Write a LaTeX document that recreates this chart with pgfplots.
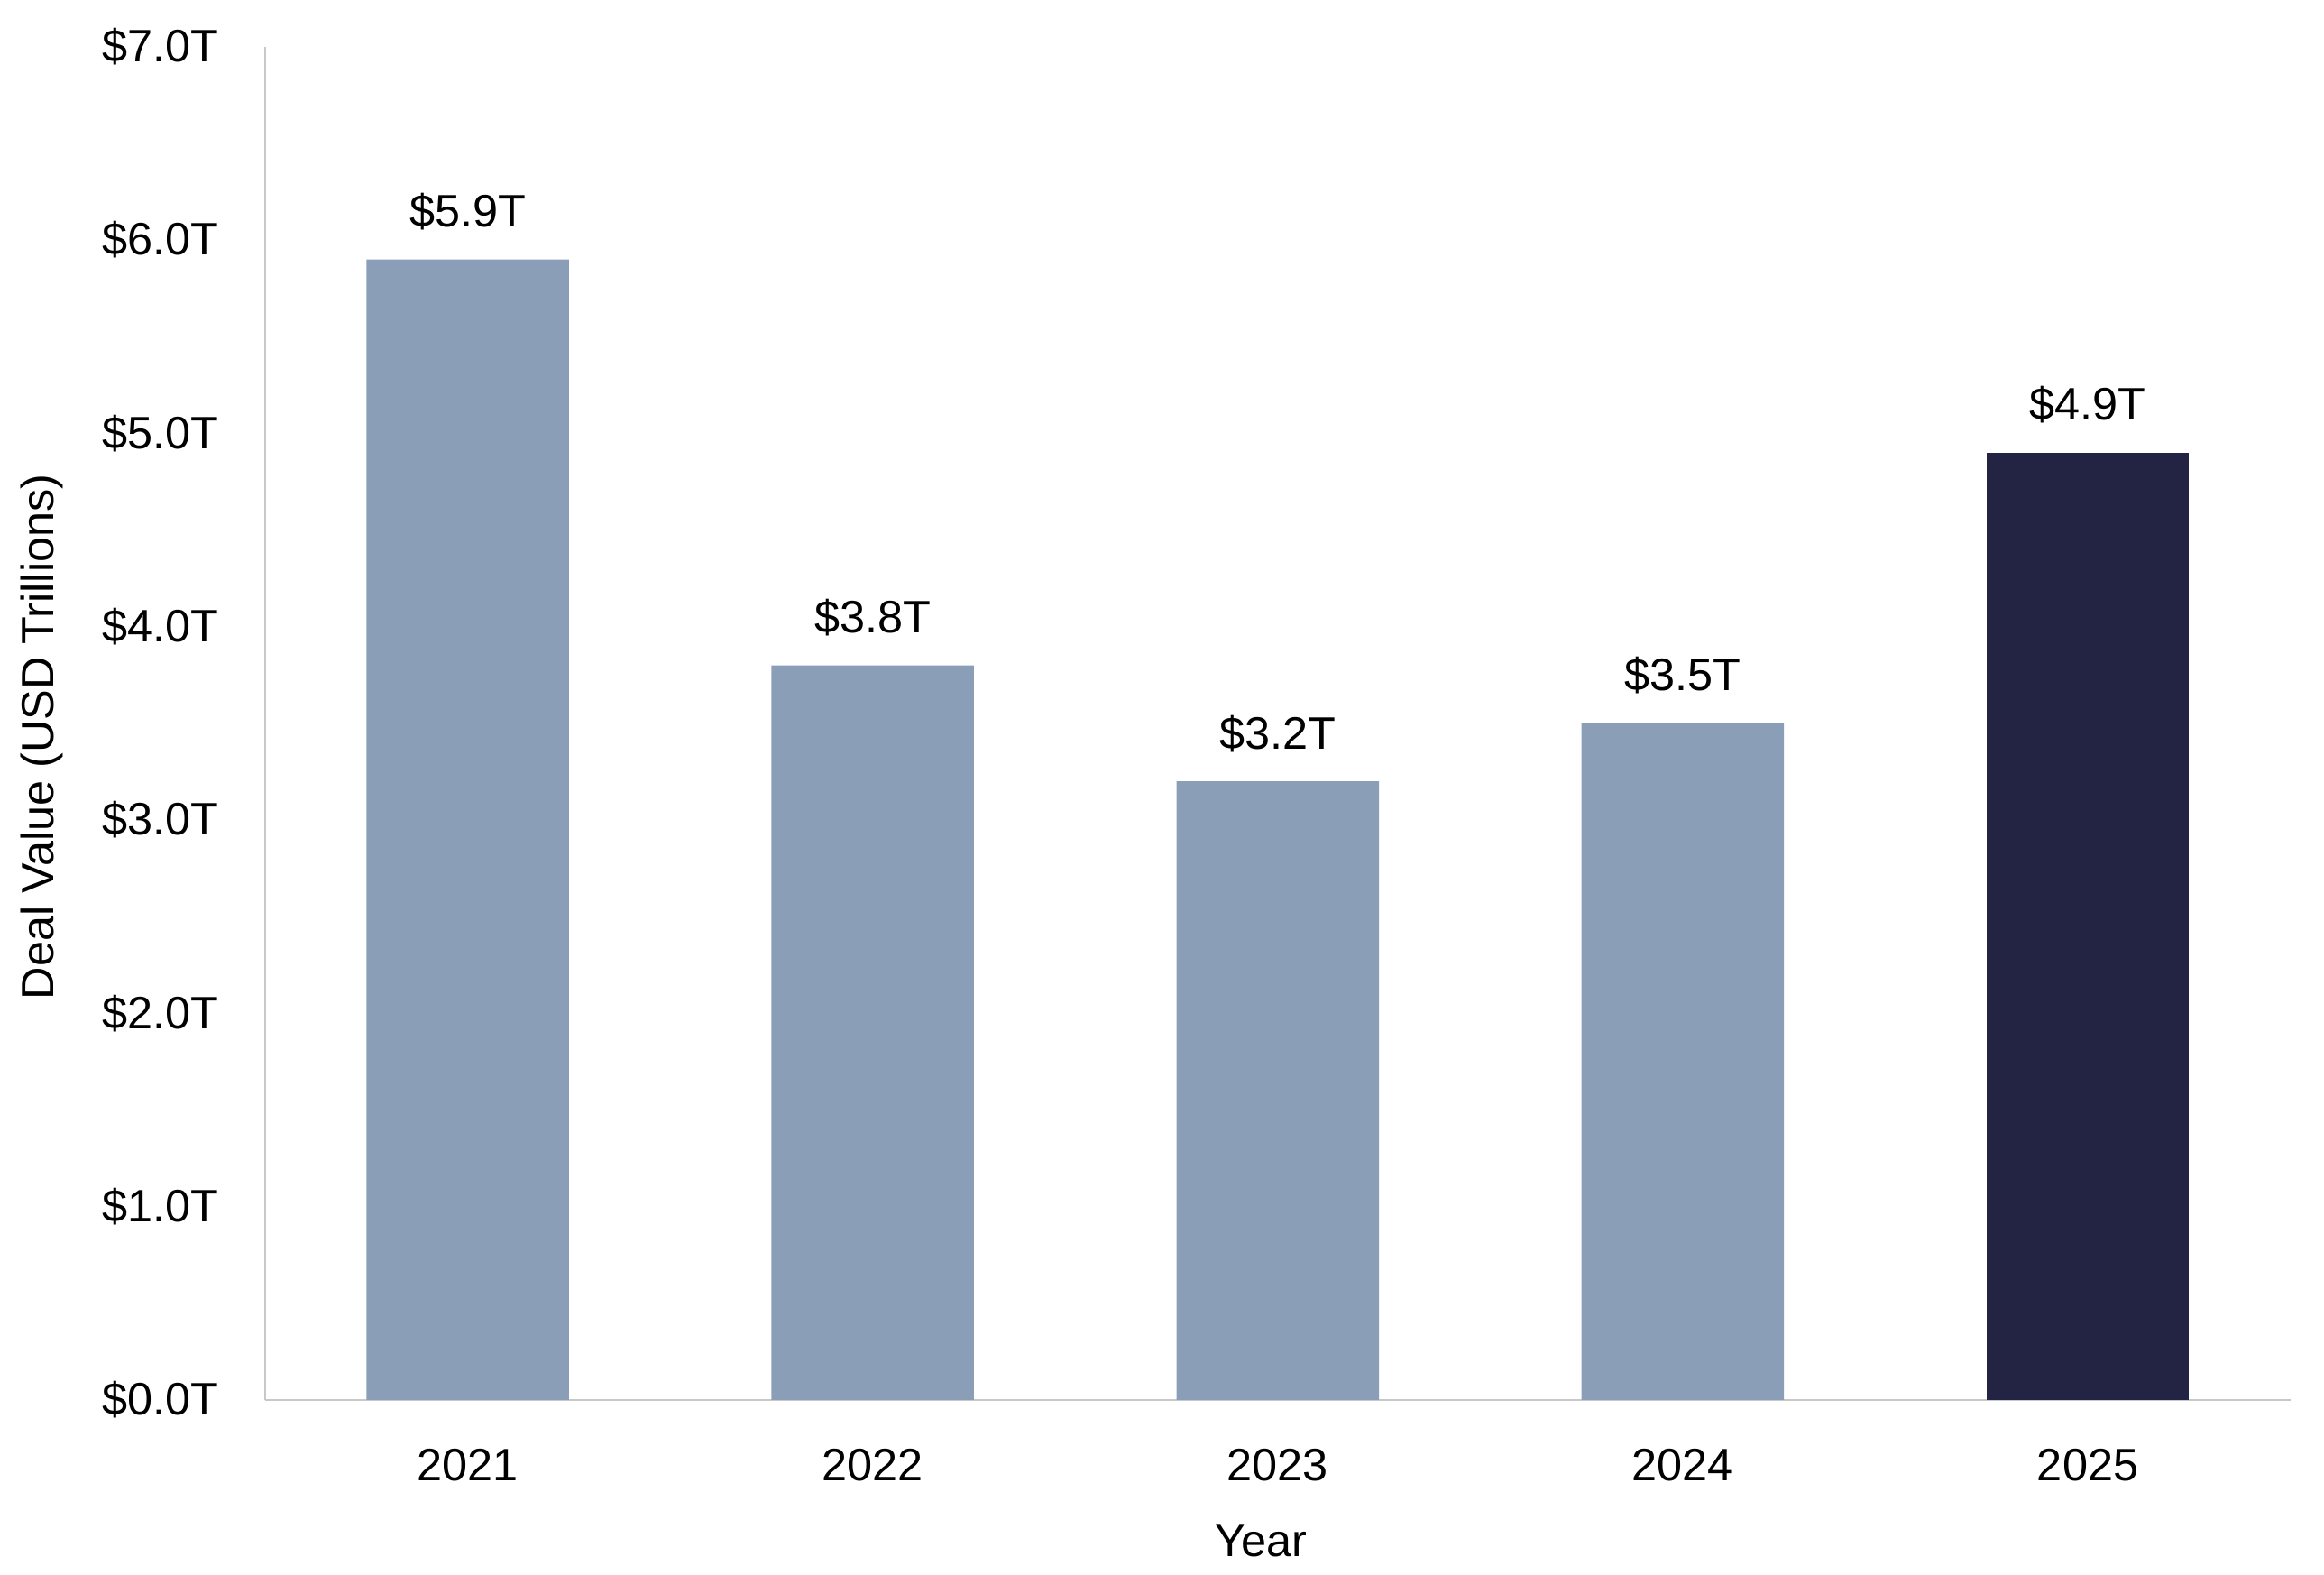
\documentclass[border=0pt]{standalone}
\usepackage{pgfplots}
\pgfplotsset{compat=1.18}
\usepackage{fontspec}
\setmainfont{Liberation Sans}
\definecolor{barlight}{HTML}{8A9FB7}
\definecolor{bardark}{HTML}{232344}
\definecolor{axgray}{HTML}{C8C8C8}
\begin{document}
\fontsize{12.6}{15}\selectfont
\begin{tikzpicture}
\path[use as bounding box] (-73.5pt,-48.3pt) rectangle (570.75pt,387.95pt);
\begin{axis}[
  at={(0pt,0pt)}, anchor=south west,
  scale only axis, width=561.4pt, height=375pt,
  /pgf/number format/assume math mode=true,
  font=\fontsize{12.6}{15}\selectfont,
  ybar, bar shift=0pt, bar width=0.5,
  xmin=-0.5, xmax=4.5, ymin=0, ymax=7,
  axis lines*=left,
  axis line style={draw=axgray, line width=0.5pt},
  major tick length=0pt,
  xtick={0,1,2,3,4},
  xticklabels={2021,2022,2023,2024,2025},
  ytick={0,1,2,3,4,5,6,7},
  yticklabel={\$\pgfmathprintnumber[fixed,fixed zerofill,precision=1]{\tick}T},
  yticklabel style={anchor=east, inner sep=0pt, xshift=-12.7pt},
  xticklabel style={anchor=north, inner sep=0pt, yshift=-13.4pt},
  xlabel={Year}, ylabel={Deal Value (USD Trillions)},
  every axis x label/.style={at={(axis description cs:0.4916,0)}, anchor=center, yshift=-39.2pt},
  every axis y label/.style={at={(axis description cs:0,0.49)}, rotate=90, anchor=center, yshift=62pt},
  nodes near coords={\$\pgfmathprintnumber[fixed,fixed zerofill,precision=1]{\pgfplotspointmeta}T},
  every node near coord/.append style={anchor=base, inner sep=0pt, yshift=9pt, text=black},
  clip=false,
]
\addplot[fill=barlight, draw=none] coordinates {(0,5.9) (1,3.8) (2,3.2) (3,3.5)};
\addplot[fill=bardark, draw=none] coordinates {(4,4.9)};
\end{axis}
\end{tikzpicture}
\end{document}
